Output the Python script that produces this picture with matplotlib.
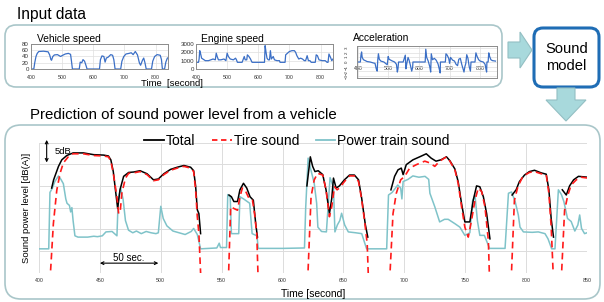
import numpy as np
import matplotlib
matplotlib.use('Agg')
import matplotlib.pyplot as plt
from matplotlib.patches import FancyBboxPatch, Polygon
from matplotlib.lines import Line2D

plt.rcParams['font.family'] = ['Liberation Sans', 'DejaVu Sans']

nan = np.nan

# ---- main chart data (relative dB, grid step 5 dB) ----
pt_time = [400, 408, 409, 411, 413, 416, 418, 420, 422, 423, 425, 426, 427, 428, 429.5, 432, 440, 445, 448, 452,
           455, 460, 462, 464, 465, 467, 469, 471, 473.5, 477, 480, 484, 488, 492, 496, 498, 500, 502, 505, 510,
           515, 520, 525, 527, 530, 532.7, 540, 546, 548, 549, 554, 555, 557, 558, 564, 565, 568, 573, 575, 579,
           580, 600, 618, 619, 621, 623, 626, 628, 629, 632, 636, 639, 641.8, 643, 645, 647, 648.5, 651, 654, 660,
           665, 669, 685.5, 687, 690, 694.6, 697, 698, 699, 703, 707, 712, 717, 720, 721, 725, 729, 733, 736, 741.5,
           745.6, 749.7, 753.8, 756, 758, 760, 762, 765.7, 770, 782.7, 785.5, 788, 791, 793.6, 795, 797.8, 805, 810,
           815.5, 818, 821, 823.7, 826.5, 829, 831, 834, 837, 840, 842.5, 844, 845.5, 848, 850]
pt_level = [5.5, 5.5, 18.5, 19.5, 21, 22.3, 21.5, 20.5, 17, 16, 15.5, 14, 15, 12, 8.5, 8.2, 8.2, 8.4, 8.3, 8.5,
            9.4, 9.5, 9, 8.5, 16.5, 19.5, 17, 12, 9.8, 9.2, 9.6, 9.0, 9.5, 9.2, 9.0, 9.2, 15.3, 12.5, 10.8, 9.6,
            9.2, 8.8, 9.5, 10.2, 8.8, 5.5, 5.6, 5.7, 6.8, 5.8, 5.8, 18, 17.5, 9, 9, 17.5, 17, 16, 9, 8.5,
            5.6, 5.6, 5.7, 15, 26.4, 24, 20.6, 16, 10.5, 9.5, 9.4, 21.9, 19.7, 9.4, 11, 12, 13.7, 11, 9.4, 9.2,
            9.0, 5.5, 5.5, 17.9, 18.5, 20.2, 19.5, 17, 21, 21.5, 22.3, 22, 22.2, 21.5, 18.3, 15.2, 11.7, 12.3, 12.3, 11.3,
            10.5, 8.6, 9.2, 16.5, 17.9, 12, 8.6, 8.6, 5.6, 5.6, 18.3, 18.6, 16.4, 13.3, 10.5, 9.4, 9.3, 9.4,
            9.0, 7.8, 5.5, 5.5, 19.1, 18, 16.4, 12.5, 11.8, 9.6, 11, 13.3, 10.2, 9.0, 9.2]

tire_time = [409, 411.8, 414.6, 417.3, 420, 424, 428, 436.5, 444.8, 453, 457, 459, 461, 464, 465.4, 466.8, 468, 471,
             473.6, 477.7, 483, 488.7, 494, 498, 502.5, 508, 513.5, 519, 524.5, 527, 528.6, 530, 531.3, 533, 533.1,
             555.5, 557.4, 560, 563, 565, 567, 569.8, 572.5, 575.3, 577, 578.8, 580, 580.1,
             620.6, 623.4, 626, 628.8, 633, 635.7, 638.5, 640.4, 642.6, 644.8, 646.7, 650.8, 655, 659, 662.4, 664.6,
             667.3, 669.5, 670.6, 670.7,
             687.9, 690.7, 693.4, 697, 700.3, 704.4, 709.9, 716.8, 720.9, 725, 729, 734.6, 737.4, 741.5, 744.2, 747,
             749.7, 752.5, 755.2, 758, 760.7, 763.5, 766.2, 769, 770, 770.1,
             787.7, 790.4, 793.2, 797.3, 802.7, 806.9, 812.4, 816.5, 818.7, 820.6, 822.5, 822.6,
             828.8, 831.6, 834.3, 837, 841.2, 845.3, 850.8]
tire_level = [-2, 11.3, 19, 22.9, 25.3, 26.7, 27.4, 27.4, 27, 26.9, 26.7, 25.7, 22.9, 17.5, 13.6, 14.4, 18.3, 21.8,
              22.9, 23.0, 23.3, 22.6, 21.2, 21.4, 22.6, 23.6, 24.1, 24.5, 24.1, 23.3, 19.1, 12.9, 9, -2, nan,
              -2, 15.2, 14.8, 14.4, 17.5, 19.5, 18.7, 17.1, 16.7, 13.6, 9, -2, nan,
              -2, 17.5, 21.4, 22.9, 22.5, 19.1, 12.9, 15.2, 19.8, 19.1, 19.5, 21, 22.3, 22.3, 21, 17.5,
              12.1, 6.7, -2, nan,
              -2, 13.6, 18.3, 21.4, 22.2, 24.1, 24.9, 25.7, 25.3, 24.5, 25.7, 26.7, 25.7, 23.7, 20.6, 15.2,
              10.5, 8.2, 12.1, 16.7, 19.5, 18.7, 15.2, 7.4, -2, nan,
              -2, 16.7, 19.8, 22.2, 23.1, 23.3, 22.8, 22.6, 18.3, 10.5, -2, nan,
              -2, 14.4, 17.9, 20.2, 21.4, 22, 21.8]

total_time = [410.4, 412, 416, 418.7, 422.8, 428, 436.5, 444.8, 453, 457, 459, 461, 463, 464.6, 466.5, 469.5, 473.6,
              477.7, 483, 488.7, 494, 498, 502.5, 508, 513.5, 519, 524.5, 527, 528.6, 530, 531.3, 532.7, 532.8,
              556, 558, 560, 563, 565, 567.9, 570.6, 573.3, 576, 578, 579.4, 579.5,
              620, 622.8, 624.7, 626.6, 629.3, 633, 635.7, 638.5, 640.4, 641.8, 644, 646.7, 650.8, 655, 659, 662.4,
              665, 667.9, 670, 670.1,
              689, 692, 694.8, 697.5, 699, 701.6, 707, 712.6, 718, 722, 726, 730, 734.6, 737.4, 741.5, 744.2, 747,
              749.7, 753.8, 756.6, 759.3, 762, 764.9, 767.6, 770.3, 770.4,
              788.5, 791.8, 794.5, 798.7, 802.7, 806.9, 812.4, 816.5, 818.7, 820.6, 822.5, 822.6,
              829.7, 833, 835.7, 839, 843, 850.8]
total_level = [19.5, 21.4, 24.5, 26, 27, 27.6, 27.6, 27.2, 27.1, 26.9, 26, 23.3, 18.5, 14.8, 19.1, 22.2, 23.1,
               23.2, 23.5, 22.8, 21.4, 21.6, 22.8, 23.8, 24.3, 24.7, 24.3, 23.5, 20, 14.5, 13.6, 9, nan,
               17.9, 17.5, 16.4, 16.4, 19.1, 20.6, 19.5, 17.5, 16.7, 11.2, 8.2, nan,
               20, 26.7, 24.5, 23.3, 23.5, 22.6, 19.1, 13.6, 17.1, 21.8, 19.5, 20, 21.4, 22.5, 22.5, 21.4,
               17.1, 11.2, 8.2, nan,
               19.1, 22.2, 23.7, 24.1, 22.6, 24.9, 26, 26.7, 27.4, 26.4, 25.7, 26, 26.7, 25.8, 23.9, 21, 15.9,
               11.7, 11.7, 16.7, 20, 19.8, 17.5, 13.6, 7.8, nan,
               17.9, 19.1, 21, 22.5, 23.3, 23.6, 23, 22.7, 19.1, 12.4, 8.2, nan,
               19.1, 17.9, 20, 21.4, 22.2, 22]

# ---- input data (small charts) ----
vs_time = [400, 409, 412, 416, 420, 425, 440, 455, 460, 464, 466, 470, 475, 485, 495, 500, 510, 520, 527, 530, 533,
           555, 558, 563, 567, 572, 577, 580, 620, 623, 628, 634, 638, 642, 648, 656, 662, 666, 670, 688, 692, 698,
           705, 715, 722, 728, 735, 742, 748, 752, 758, 762, 766, 770, 787, 791, 797, 805, 815, 819, 822, 829, 833,
           838, 845]
vs_speed = [0, 0, 20, 40, 50, 56, 57, 55, 45, 30, 28, 40, 45, 46, 40, 43, 48, 50, 47, 25, 0,
            0, 22, 20, 30, 25, 10, 0, 0, 30, 42, 40, 22, 35, 38, 46, 44, 30, 0, 0, 25, 40,
            48, 50, 52, 46, 56, 45, 20, 12, 28, 35, 20, 0, 0, 25, 40, 46, 44, 30, 0, 0, 22,
            35, 38]

es_time = [400, 408, 410, 412, 415, 418, 422, 430, 440, 455, 462, 465, 468, 472, 480, 490, 496, 500, 504, 510, 520,
           527, 530, 533, 548, 555, 558, 563, 565, 570, 575, 580, 620, 622, 625, 628, 632, 636, 639, 642, 648, 652,
           660, 668, 670, 686, 688, 694, 700, 708, 716, 720, 724, 730, 736, 742, 748, 752, 757, 761, 766, 770, 783,
           786, 790, 795, 805, 815, 821, 824, 827, 832, 836, 840]
es_rpm = [800, 800, 1200, 2200, 1800, 1300, 1200, 1000, 1000, 1200, 1100, 1900, 1500, 1100, 1100, 1200, 1000, 1900,
          1500, 1200, 1100, 1300, 1100, 800, 800, 1500, 1100, 1100, 1700, 1500, 1200, 800, 800, 2800, 2000, 1300,
          1100, 1100, 2200, 1200, 1500, 1100, 1000, 1000, 800, 800, 1700, 1900, 2100, 2200, 2200, 2000, 1600, 1200,
          1300, 1200, 1000, 1000, 1600, 1000, 1000, 800, 800, 1700, 1600, 1100, 1000, 1000, 800, 800, 1800, 1400,
          1000, 1200]

ac_time = [400, 408, 410, 412, 414, 418, 424, 430, 440, 450, 456, 460, 463, 465, 467, 470, 475, 485, 492, 496, 499,
           502, 510, 520, 526, 529, 531, 533, 548, 555, 557, 560, 564, 567, 572, 576, 579, 580, 620, 622, 625, 630,
           635, 638, 640, 644, 650, 656, 662, 666, 669, 670, 686, 688, 692, 697, 700, 703, 710, 716, 721, 726, 730,
           735, 740, 744, 747, 750, 753, 756, 760, 764, 768, 770, 783, 786, 790, 795, 800, 810, 816, 819, 821, 822,
           826, 828, 831, 835, 840, 850]
ac_value = [0, 0, 1.5, 2.2, 1.0, 0.5, 0.3, 0.1, 0, -0.2, -0.3, -1.5, -2.0, 0.5, 1.8, 0.6, 0.2, 0, -0.4, -0.6, 1.2,
            0.6, 0.3, 0, -0.5, -2.2, -1.5, 0, 0, 1.5, -1.5, -0.3, 1.0, 0.5, -0.8, -2.0, -1.2, 0, 0, 2.8, 1.0, 0.2,
            -1.0, -2.2, 1.8, 0.5, 0.8, 0.4, -0.4, -1.5, -2.4, 0, 0, 1.8, 1.5, 0.8, -0.3, 1.0, 0.4, 0.2, -0.5, -0.8,
            0.6, 0.8, -0.6, -1.5, -2.2, -1.0, -0.3, 1.6, 0.8, -1.0, -2.0, 0, 0, 2.0, 1.2, 0.5, 0.2, 0, -0.5, -1.6,
            -2.2, 0, 0, 2.0, 1.2, 0.5, 0.3, 0.2]

W, H = 604, 302
fig = plt.figure(figsize=(W / 100, H / 100), dpi=100)


def px_axes(x0, y0, x1, y1):
    # rectangle in pixel coords (y from top)
    return fig.add_axes([x0 / W, 1 - y1 / H, (x1 - x0) / W, (y1 - y0) / H])


# background layer for boxes, arrows, titles
bg = fig.add_axes([0, 0, 1, 1])
bg.set_xlim(0, W)
bg.set_ylim(H, 0)
bg.axis('off')

box_edge = '#a9c6c9'
bg.add_patch(FancyBboxPatch((5, 25), 497, 62, boxstyle='round,pad=0,rounding_size=11',
                            fc='white', ec=box_edge, lw=1.2))
bg.add_patch(FancyBboxPatch((5, 125), 595, 174, boxstyle='round,pad=0,rounding_size=16',
                            fc='white', ec=box_edge, lw=1.2))
bg.add_patch(FancyBboxPatch((534, 28), 65, 59, boxstyle='round,pad=0,rounding_size=9',
                            fc='white', ec='#1f6db5', lw=2.2))
arrow_fc, arrow_ec = '#a8d9dc', '#93bfc3'
bg.add_patch(Polygon([(508, 42), (520, 42), (520, 32), (532, 50), (520, 68), (520, 58), (508, 58)],
                     closed=True, fc=arrow_fc, ec=arrow_ec, lw=0.8))
bg.add_patch(Polygon([(557, 88), (575, 88), (575, 100), (586, 100), (566, 121), (546, 100), (557, 100)],
                     closed=True, fc=arrow_fc, ec=arrow_ec, lw=0.8))

bg.text(17, 15, 'Input data', fontsize=11.2, va='center', ha='left')
bg.text(30, 115, 'Prediction of sound power level from a vehicle', fontsize=10.8, va='center', ha='left')
bg.text(566.5, 57.5, 'Sound\nmodel', fontsize=10.6, va='center', ha='center', linespacing=1.25)
bg.text(37, 38.5, 'Vehicle speed', fontsize=7.4, va='center', ha='left')
bg.text(201, 38.5, 'Engine speed', fontsize=7.4, va='center', ha='left')
bg.text(353, 38, 'Acceleration', fontsize=7.4, va='center', ha='left')
bg.text(172, 83, 'Time  [second]', fontsize=6.8, va='center', ha='center')

line_blue = '#3b6fc6'
frame_grey = '#8c8c8c'


def small_chart(ax, t, v, xlim, ylim, yticks):
    ax.plot(t, v, color=line_blue, lw=0.9)
    ax.set_xlim(*xlim)
    ax.set_ylim(*ylim)
    ax.set_xticks([400, 500, 600, 700, 800])
    ax.set_yticks(yticks)
    ax.grid(True, color='#dedede', lw=0.5)
    for s in ax.spines.values():
        s.set_color(frame_grey)
        s.set_linewidth(0.7)
    ax.tick_params(length=0, labelsize=3.8, pad=1.5, colors='#333333')
    ax.tick_params(axis='y', labelsize=4.4)


ax_v = px_axes(31, 44, 168, 69)
small_chart(ax_v, vs_time, vs_speed, (400, 840), (0, 80), [0, 20, 40, 60, 80])
ax_v.tick_params(axis='x', pad=4)
ax_e = px_axes(196, 44, 333, 69)
small_chart(ax_e, es_time, es_rpm, (400, 840), (0, 3000), [0, 1000, 2000, 3000])
ax_e.tick_params(axis='x', pad=4)
ax_a = px_axes(357, 46, 497, 78)
small_chart(ax_a, ac_time, ac_value, (397, 855), (-3.5, 3.5), [-3, -2, -1, 0, 1, 2, 3])
ax_a.tick_params(axis='x', pad=-9)
ax_a.tick_params(axis='y', pad=6, labelrotation=90, labelsize=3.2)

# main chart
ax = px_axes(39, 142.5, 587, 272.7)
ax.set_facecolor('none')
ax.plot(pt_time, pt_level, color='#7fc3c9', lw=1.1, zorder=2)
ax.plot(total_time, total_level, color='black', lw=1.1, zorder=3)
ax.plot(tire_time, tire_level, color='#ff1a1a', lw=1.2, ls=(0, (4, 2.6)), zorder=4)
ax.set_xlim(400, 850)
ax.set_ylim(0, 30)
ax.set_xticks(np.arange(400, 851, 50))
ax.set_yticks(np.arange(0, 31, 5))
ax.set_yticklabels([])
ax.grid(True, color='#dcdcdc', lw=0.7, zorder=0)
ax.set_axisbelow(True)
for s in ax.spines.values():
    s.set_visible(False)
ax.tick_params(length=0, labelsize=3.8, pad=4, colors='#333333')
ax.set_xlabel('Time [second]', fontsize=7.4, labelpad=4)
ax.set_ylabel('Sound power level [dB(A)]', fontsize=6.8, labelpad=2)

ax.annotate('', xy=(406.3, 30.6), xytext=(406.3, 25.4), annotation_clip=False,
            arrowprops=dict(arrowstyle='<->', lw=0.8, color='black', shrinkA=0, shrinkB=0,
                            mutation_scale=5))
ax.text(413, 27.9, '5dB', fontsize=6.8, va='center', ha='left')
ax.annotate('', xy=(450, 2.2), xytext=(498, 2.2),
            arrowprops=dict(arrowstyle='<->', lw=0.8, color='black', shrinkA=0, shrinkB=0,
                            mutation_scale=5))
ax.text(474, 3.4, '50 sec.', fontsize=7, va='center', ha='center')

handles = [Line2D([], [], color='black', lw=1.3),
           Line2D([], [], color='#ff1a1a', lw=1.3, ls=(0, (3, 2))),
           Line2D([], [], color='#7fc3c9', lw=1.3)]
fig.legend(handles, ['Total', 'Tire sound', 'Power train sound'], loc='center',
           bbox_to_anchor=(297 / W, 1 - 141 / H), ncol=3, frameon=False, fontsize=10,
           handlelength=1.4, handletextpad=0.15, columnspacing=1.2, borderpad=0)

fig.savefig('out.png', dpi=100)
